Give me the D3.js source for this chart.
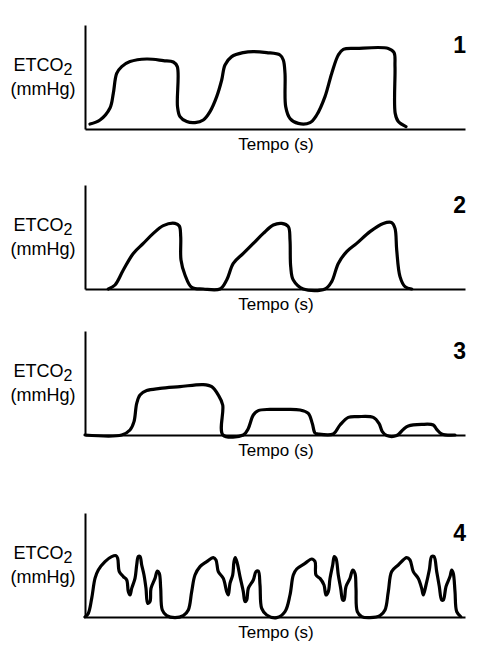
<!DOCTYPE html>
<html>
<head>
<meta charset="utf-8">
<script src="https://cdn.jsdelivr.net/npm/d3@7"></script>
<style>
  html, body { margin: 0; padding: 0; background: #fff; }
  svg { display: block; }
  text { font-family: "Liberation Sans", Arial, sans-serif; fill: #000; }
</style>
</head>
<body>
<svg id="chart" width="490" height="648"></svg>
<script>
// ---- Data (time in s, ETCO2 in mmHg) ----
const panelLabels = ["1", "2", "3", "4"];
const yLabelMain = "ETCO";
const yLabelSub = "2";
const yLabelUnit = "(mmHg)";
const xLabel = "Tempo (s)";

const wave1 = [
  [0.5,2.5],[1.5,4.5],[2.5,10.5],[2.83,17.8],[3.17,27.8],[3.67,31.2],[4.5,33.7],
  [6.17,35],[7.83,34.2],[8.83,33.5],[9.23,31.2],[9.25,11.2],[9.5,6.2],[10.17,3.7],
  [11,3.2],[11.83,4.5],[12.5,8.7],[13.17,16.2],[13.67,24.5],[14,32],[14.67,36.2],
  [15.83,38.2],[16.83,38.7],[18.17,38.2],[19.5,37],[19.83,34.5],[20,27.8],[20.07,11.2],
  [20.5,5.3],[21.33,2.8],[22.5,3.2],[23.17,7],[24,16.2],[24.67,27.8],[25.33,37],
  [25.83,39.8],[27.17,40.3],[30.33,40.3],[30.9,38.2],[31,31.2],[31.02,7.8],[31.33,3.7],[32.1,1.2]
];
const wave2 = [
  [2.33,0],[3.0,2],[3.83,9.5],[4.83,17.8],[5.83,22.8],[6.83,27.8],[7.83,31.7],[9.0,32.8],
  [9.43,31.5],[9.57,26.2],[9.6,14.5],[10.0,7],[10.67,0.8],[11.83,0],[13.5,0],[14.17,4.5],
  [14.83,12.8],[15.83,17.8],[16.83,22.8],[17.83,27.8],[18.83,32],[19.67,32.8],[20.33,31.2],
  [20.5,24.5],[20.57,11.2],[20.83,4.5],[21.83,0],[24.0,0],[24.67,3.7],[25.33,12.8],
  [26.17,18.7],[27.17,22.8],[28.5,28.7],[29.83,32.8],[30.67,33.2],[31.0,30.3],[31.17,19.5],
  [31.5,6.2],[32.0,1.2],[32.67,0]
];
const wave3 = [
  [0,0],[3.67,0],[4.5,2.5],[4.9,6.7],[5.17,15.8],[5.5,20],[6.17,22.2],[7.5,23.3],[9.5,24.2],
  [11.83,25.2],[12.67,24.2],[13.33,20],[13.77,15],[13.8,0],[15.83,0],[16.33,3.3],[16.83,10],
  [17.33,12.2],[18.5,12.8],[20,12.8],[21.5,12.5],[22.33,10.8],[22.73,5.8],[23,1],[23.33,0.5],
  [24.83,0.5],[25.5,5],[26.33,8.8],[27.33,9.2],[28.83,8.8],[29.4,5.8],[29.73,1.7],[30.17,-0.3],
  [31.17,-0.3],[31.83,2.8],[32.33,4.5],[33.67,5.3],[34.83,5],[35.17,2.8],[35.67,0.5],[37,0]
];
const wave4 = [
  [0,0],[0.33,1.8],[0.67,9.3],[1.0,19.3],[1.33,23.5],[2.0,27.7],[2.67,30.2],[3.1,30.7],
  [3.27,29.3],[3.43,22.7],[3.83,20.2],[4.17,18.5],[4.33,12.7],[4.5,11],[4.67,14.3],[5.0,19.3],
  [5.17,26],[5.33,30.2],[5.5,30.2],[5.67,26],[5.9,21],[6.1,14.3],[6.27,6.8],[6.5,7.7],
  [6.6,14.3],[7.0,19.3],[7.23,23],[7.43,21.8],[7.57,14.3],[7.73,3.5],[8.17,0.7],[9.0,-0.3],
  [9.83,0.7],[10.33,3.5],[10.67,12.7],[11.0,21],[11.5,25.2],[12.17,27.7],[12.83,29.7],
  [13.1,28.5],[13.33,22.7],[13.83,19.3],[14.17,12.7],[14.33,11],[14.5,16.8],[14.77,21],
  [14.9,27.7],[15.03,29.7],[15.23,26.8],[15.5,20.2],[15.83,12.7],[16.0,7.7],[16.17,8.5],
  [16.33,14.3],[16.83,18.5],[17.1,22.7],[17.33,23],[17.5,16],[17.67,4.3],[18.17,1],
  [19.17,-0.3],[20.0,2.7],[20.5,11],[20.83,21],[21.17,24],[22.0,26.8],[22.67,29],[23.0,27.7],
  [23.1,21],[23.5,19.3],[23.9,16],[24.1,11],[24.33,12.7],[24.5,19.3],[24.77,26],[24.93,30.2],
  [25.1,29.3],[25.33,21],[25.57,14.3],[25.77,8.5],[25.9,8.5],[26.1,15.2],[26.5,19.3],
  [26.77,23.5],[27.0,21.8],[27.1,14.3],[27.23,2.7],[27.67,0.2],[28.5,-0.3],[29.5,0.7],
  [30.0,3.5],[30.33,12.7],[30.67,22.7],[31.33,26],[32.17,29.7],[32.5,28.5],[32.83,22.7],
  [33.33,19.3],[33.67,14.3],[33.83,11],[34.1,16],[34.43,23.5],[34.67,30.2],[34.9,30.2],
  [35.17,22.7],[35.43,15.2],[35.67,8.5],[35.83,8.5],[36.1,15.2],[36.5,20.2],[36.67,23.5],
  [36.83,21.8],[37.0,12.7],[37.17,2.7],[37.57,0.2]
];
const waves = [wave1, wave2, wave3, wave4];
const timeDomain = [0, 38];
const etco2Domain = [0, 52];

// ---- Layout ----
const svg = d3.select("#chart");
const axisBottoms = [129, 289, 435, 617];
const plotH = 104;
const x0 = 85, x1 = 465;

waves.forEach((wave, i) => {
  const bottom = axisBottoms[i];
  const x = d3.scaleLinear().domain(timeDomain).range([x0, x1]);
  const y = d3.scaleLinear().domain(etco2Domain).range([bottom, bottom - plotH]);
  const g = svg.append("g");

  // axes (no ticks)
  const xAxis = g.append("g").attr("transform", `translate(0,${bottom})`)
    .call(d3.axisBottom(x).tickValues([]).tickSizeOuter(0));
  const yAxis = g.append("g").attr("transform", `translate(${x0},0)`)
    .call(d3.axisLeft(y).tickValues([]).tickSizeOuter(0));
  g.selectAll(".domain").attr("stroke", "#000").attr("stroke-width", 2);

  // waveform
  const line = d3.line()
    .x(d => x(d[0]))
    .y(d => y(d[1]))
    .curve(d3.curveCatmullRom.alpha(0.5));
  g.append("path")
    .datum(wave)
    .attr("d", line)
    .attr("fill", "none")
    .attr("stroke", "#000")
    .attr("stroke-width", 3.2)
    .attr("stroke-linejoin", "round")
    .attr("stroke-linecap", "round");

  // y label
  const yl = g.append("text")
    .attr("x", 43).attr("y", bottom - 58)
    .attr("text-anchor", "middle")
    .attr("font-size", 18);
  yl.append("tspan").text(yLabelMain);
  yl.append("tspan").text(yLabelSub).attr("font-size", 16).attr("dy", 4);
  g.append("text")
    .attr("x", 43).attr("y", bottom - 34)
    .attr("text-anchor", "middle")
    .attr("font-size", 18)
    .text(yLabelUnit);

  // x label
  g.append("text")
    .attr("x", 276).attr("y", bottom + 21)
    .attr("text-anchor", "middle")
    .attr("font-size", 17)
    .text(xLabel);

  // panel number
  g.append("text")
    .attr("x", 466).attr("y", bottom - 76)
    .attr("text-anchor", "end")
    .attr("font-size", 23)
    .attr("font-weight", "bold")
    .text(panelLabels[i]);
});
</script>
</body>
</html>
